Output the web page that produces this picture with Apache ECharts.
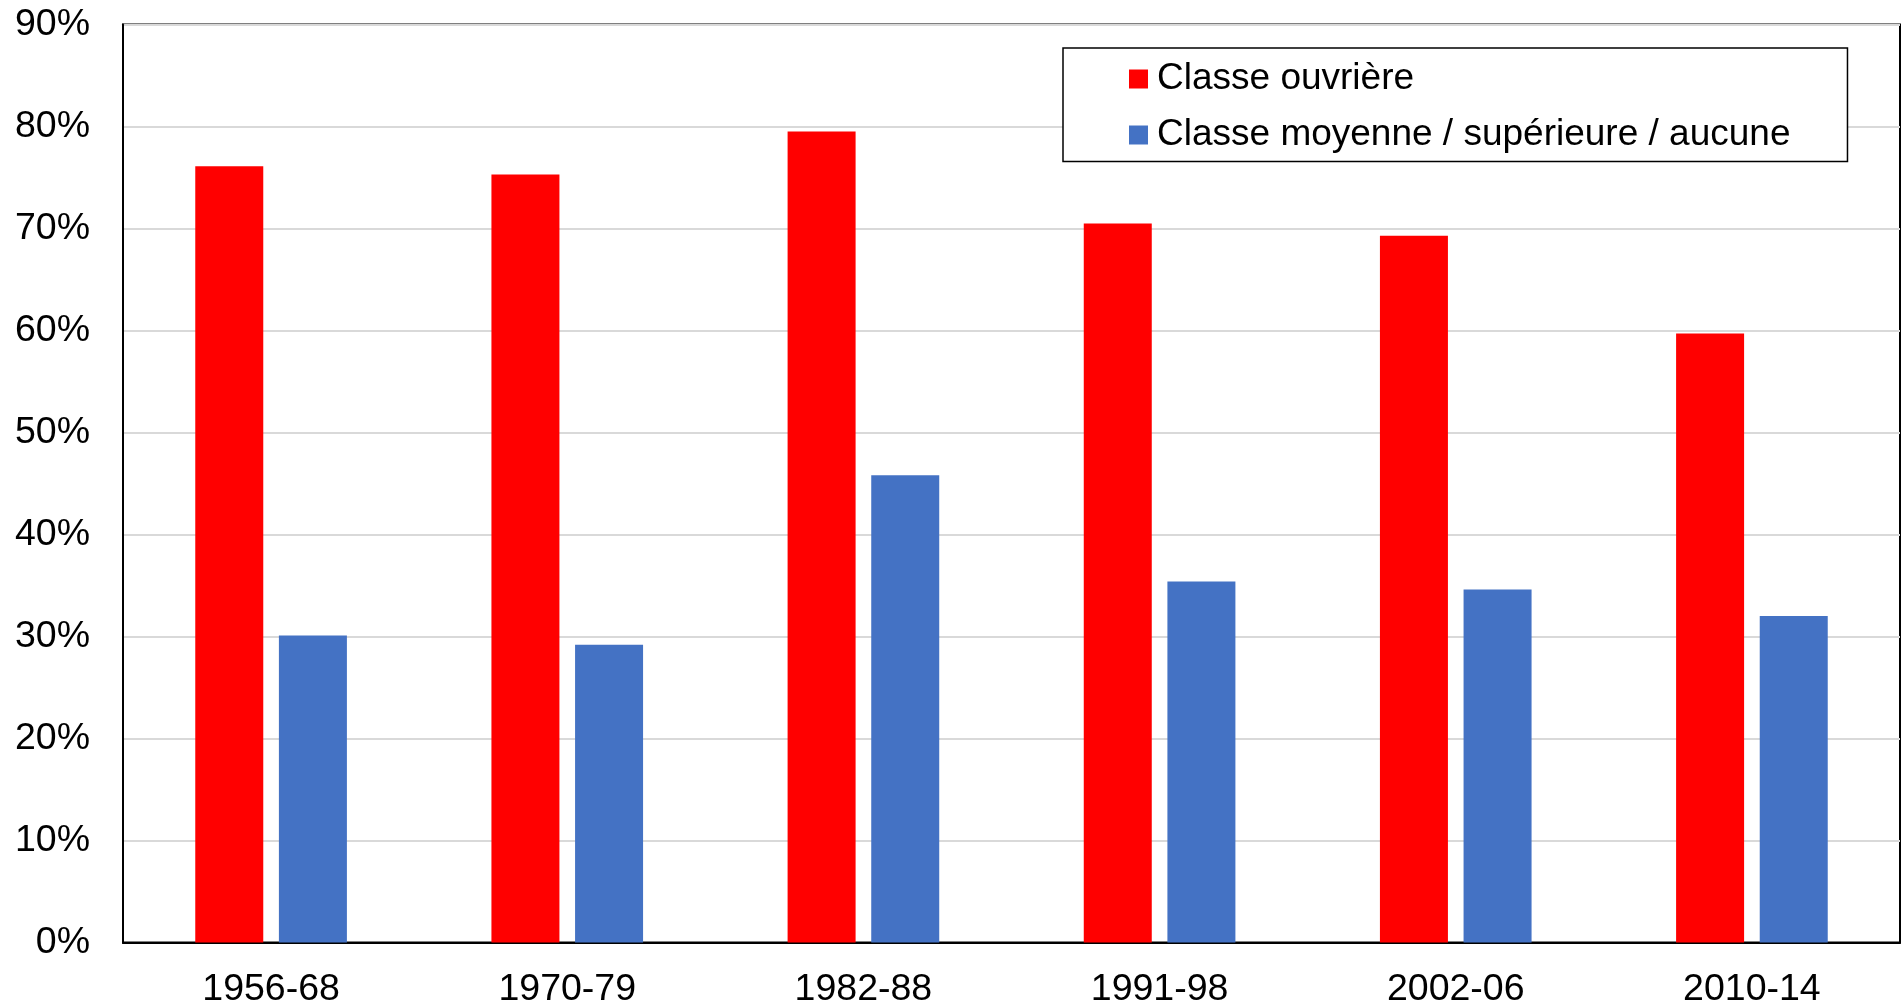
<!DOCTYPE html>
<html>
<head>
<meta charset="utf-8">
<script src="https://cdn.jsdelivr.net/npm/echarts@6/dist/echarts.min.js"></script>
<style>html,body{margin:0;padding:0;background:#fff;}#c{width:1901px;height:1003px;}</style>
</head>
<body>
<div id="c"></div>
<script>
const categories = ['1956-68', '1970-79', '1982-88', '1991-98', '2002-06', '2010-14'];
const seriesNames = ['Classe ouvrière', 'Classe moyenne / supérieure / aucune'];
const workingClass = [76.1, 75.3, 79.5, 70.5, 69.3, 59.7];
const middleClass = [30.1, 29.2, 45.8, 35.4, 34.6, 32.0];
const yTicks = { min: 0, max: 90, interval: 10 };

const chart = echarts.init(document.getElementById('c'), null, { renderer: 'canvas' });
const font = '"Liberation Sans", Arial, sans-serif';
chart.setOption({
  animation: false,
  backgroundColor: '#fff',
  grid: { left: 123, right: 1, top: 24.5, bottom: 60.5, containLabel: false, outerBoundsMode: 'none', show: true, borderColor: '#000', borderWidth: 2, backgroundColor: 'transparent' },
  legend: {
    orient: 'vertical',
    left: 1063, top: 48,
    padding: [12.5, 57, 8, 66],
    itemWidth: 19, itemHeight: 19,
    itemGap: 19,
    icon: 'rect',
    borderColor: '#000', borderWidth: 1.5,
    backgroundColor: '#fff',
    textStyle: { fontFamily: font, fontSize: 37, lineHeight: 37, color: '#000', padding: [0, 0, 0, 4] },
    data: seriesNames
  },
  xAxis: {
    type: 'category',
    data: categories,
    axisLine: { lineStyle: { color: '#000', width: 2 } },
    axisTick: { show: false },
    axisLabel: { fontFamily: font, fontSize: 37.5, color: '#000', margin: 28 },
    splitLine: { show: false }
  },
  yAxis: {
    type: 'value',
    min: yTicks.min, max: yTicks.max, interval: yTicks.interval,
    axisLine: { show: true, lineStyle: { color: '#000', width: 2 } },
    axisTick: { show: false },
    axisLabel: { fontFamily: font, fontSize: 37.5, color: '#000', margin: 33, formatter: '{value}%' },
    splitLine: { show: true, lineStyle: { color: '#d9d9d9', width: 2 } }
  },
  series: [
    { name: seriesNames[0], type: 'bar', data: workingClass, barWidth: 68, barGap: '23%', itemStyle: { color: '#ff0000' } },
    { name: seriesNames[1], type: 'bar', data: middleClass, barWidth: 68, itemStyle: { color: '#4472c4' } }
  ]
});
</script>
</body>
</html>
